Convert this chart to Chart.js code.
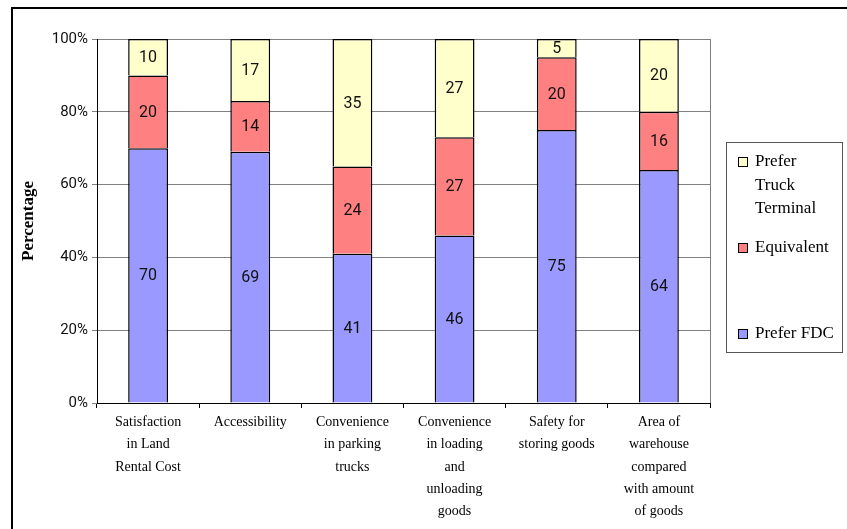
<!DOCTYPE html>
<html>
<head>
<meta charset="utf-8">
<script src="https://cdn.jsdelivr.net/npm/chart.js@4/dist/chart.umd.min.js"></script>
<style>
  html, body { margin: 0; padding: 0; background: #fff; }
  #wrap { position: relative; width: 847px; height: 529px; overflow: hidden; }
  #frame { position: absolute; left: 11px; top: 7px; width: 900px; height: 600px; border: 2px solid #000; box-sizing: border-box; }
  #chart { position: absolute; left: 0; top: 0; }
</style>
</head>
<body>
<div id="wrap">
  <div id="frame"></div>
  <canvas id="chart" width="847" height="529"></canvas>
</div>
<script>
const categories = [
    ['Satisfaction', 'in Land', 'Rental Cost'],
    ['Accessibility'],
    ['Convenience', 'in parking', 'trucks'],
    ['Convenience', 'in loading', 'and', 'unloading', 'goods'],
    ['Safety for', 'storing goods'],
    ['Area of', 'warehouse', 'compared', 'with amount', 'of goods']
];
const preferFDC = [70, 69, 41, 46, 75, 64];
const equivalent = [20, 14, 24, 27, 20, 16];
const preferTruck = [10, 17, 35, 27, 5, 20];
const yTicks = [0, 20, 40, 60, 80, 100];

const COLORS = { fdc: '#9999FF', equiv: '#FF8080', truck: '#FFFFCC' };
const SERIF = "'Liberation Serif', 'Times New Roman', serif";
const SANS = "Roboto, 'Liberation Sans', sans-serif";

// legend entries, top to bottom as in the reference
const legendItems = [
    { lines: ['Prefer', 'Truck', 'Terminal'], color: COLORS.truck, y: 162 },
    { lines: ['Equivalent'], color: COLORS.equiv, y: 248 },
    { lines: ['Prefer FDC'], color: COLORS.fdc, y: 334 }
];

// boxed legend to the right of the plot
const sideLegend = {
    id: 'sideLegend',
    afterDraw(chart) {
        const ctx = chart.ctx;
        const left = chart.chartArea.right + 16;
        ctx.save();
        ctx.strokeStyle = '#555';
        ctx.lineWidth = 1;
        ctx.strokeRect(left + 0.5, 142.5, 116, 210);
        ctx.font = '17px ' + SERIF;
        ctx.textBaseline = 'middle';
        ctx.fillStyle = '#000';
        legendItems.forEach(it => {
            ctx.fillStyle = it.color;
            ctx.fillRect(left + 12, it.y - 5, 10, 10);
            ctx.strokeStyle = '#000';
            ctx.strokeRect(left + 12.5, it.y - 4.5, 9, 9);
            ctx.fillStyle = '#000';
            it.lines.forEach((t, k) => ctx.fillText(t, left + 29, it.y + k * 23.5));
        });
        ctx.restore();
    }
};

// value labels in the middle of each segment
const valueLabels = {
    id: 'valueLabels',
    afterDatasetsDraw(chart) {
        const ctx = chart.ctx;
        ctx.save();
        ctx.font = '16px ' + SANS;
        ctx.fillStyle = '#111';
        ctx.textAlign = 'center';
        ctx.textBaseline = 'middle';
        chart.data.datasets.forEach((ds, i) => {
            chart.getDatasetMeta(i).data.forEach((el, j) => {
                const { x, y, base } = el.getProps(['x', 'y', 'base'], true);
                ctx.fillText(String(ds.data[j]), x, (y + base) / 2 + 1);
            });
        });
        ctx.restore();
    }
};

// right edge of the plot area
const plotEdge = {
    id: 'plotEdge',
    beforeDatasetsDraw(chart) {
        const { ctx, chartArea: a } = chart;
        ctx.save();
        ctx.strokeStyle = '#808080';
        ctx.lineWidth = 1;
        ctx.beginPath();
        ctx.moveTo(a.right + 0.5, a.top);
        ctx.lineTo(a.right + 0.5, a.bottom);
        ctx.stroke();
        ctx.restore();
    }
};

const barStyle = { borderColor: '#000', borderWidth: 1.5, barPercentage: 0.39, categoryPercentage: 1 };

new Chart(document.getElementById('chart').getContext('2d'), {
    type: 'bar',
    data: {
        labels: categories,
        datasets: [
            { label: 'Prefer FDC', data: preferFDC, backgroundColor: COLORS.fdc, ...barStyle },
            { label: 'Equivalent', data: equivalent, backgroundColor: COLORS.equiv, ...barStyle },
            { label: 'Prefer Truck Terminal', data: preferTruck, backgroundColor: COLORS.truck, ...barStyle }
        ]
    },
    options: {
        responsive: false,
        animation: false,
        layout: { padding: { left: 18, top: 39, right: 137, bottom: 0 } },
        plugins: { legend: { display: false }, tooltip: { enabled: false } },
        scales: {
            x: {
                stacked: true,
                grid: { drawOnChartArea: false, color: '#000', tickLength: 5, offset: true },
                border: { color: '#000' },
                ticks: {
                    color: '#000',
                    padding: 3,
                    maxRotation: 0,
                    autoSkip: false,
                    font: { family: SERIF, size: 14, lineHeight: 1.6 }
                },
                afterFit: s => { s.height = 126; }
            },
            y: {
                stacked: true,
                min: 0,
                max: 100,
                afterBuildTicks: s => { s.ticks = yTicks.map(v => ({ value: v })); },
                grid: { color: '#808080', tickLength: 5 },
                border: { color: '#000' },
                ticks: {
                    color: '#111',
                    padding: 4,
                    font: { family: SANS, size: 15 },
                    callback: v => v + '%'
                },
                title: {
                    display: true,
                    text: 'Percentage',
                    color: '#000',
                    padding: 0,
                    font: { family: SERIF, size: 17, weight: 'bold' }
                },
                afterFit: s => { s.width = 79; }
            }
        }
    },
    plugins: [valueLabels, plotEdge, sideLegend]
});
</script>
</body>
</html>
